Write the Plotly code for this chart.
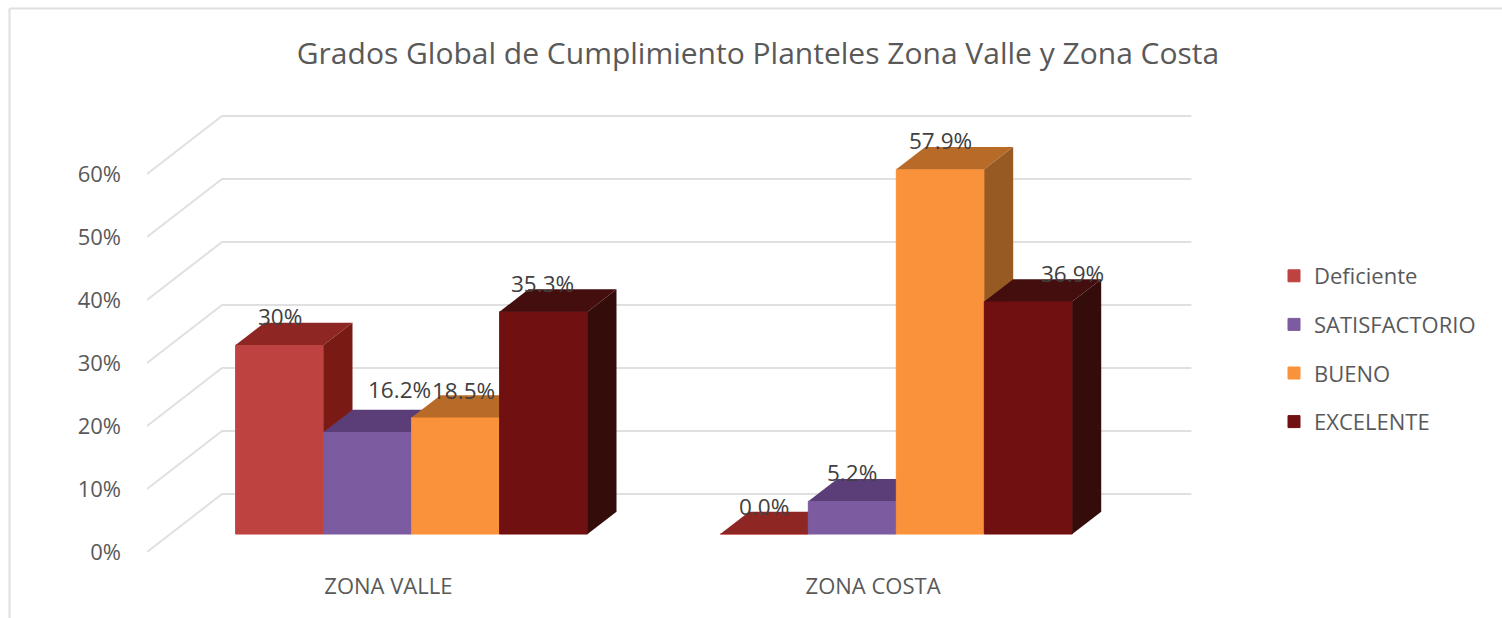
import plotly.graph_objects as go

# ---- data ----
categories = ["ZONA VALLE", "ZONA COSTA"]
series_names = ["Deficiente", "SATISFACTORIO", "BUENO", "EXCELENTE"]
deficiente = [30.0, 0.0]
satisfactorio = [16.2, 5.2]
bueno = [18.5, 57.9]
excelente = [35.3, 36.9]
label_deficiente = ["30%", "0.0%"]
label_satisfactorio = ["16.2%", "5.2%"]
label_bueno = ["18.5%", "57.9%"]
label_excelente = ["35.3%", "36.9%"]
y_ticks = [0, 10, 20, 30, 40, 50, 60]
y_tick_labels = ["0%", "10%", "20%", "30%", "40%", "50%", "60%"]

# ---- styles ----
FRONT = ["#BE4340", "#7D5BA0", "#F9923A", "#711010"]
TOP = ["#8E2724", "#5B3E78", "#B86B28", "#440E0E"]
SIDE = ["#7A1A14", "#4A2F66", "#965A22", "#340D0B"]
LABEL_SHIFT = [[(0, 29), (0, 28)], [(32, 42), (0, 29)], [(8, 27), (0, 29)], [(-1, 28), (44, 28)]]
TEXT = "#595959"
GRID = "#E0E0E0"
FONT = "Open Sans"

W, H = 1502, 618
L, R_PX, ZERO_PX = 147, 1192, 552
PX_PER_UNIT = 484.7       # one category width
PX_PER_PCT = 6.3
TOP_PX = 100
X_MAX = (R_PX - L) / PX_PER_UNIT
Y_MAX = (ZERO_PX - TOP_PX) / PX_PER_PCT
DX = 75 / PX_PER_UNIT     # floor depth, horizontal part
DY = 58 / PX_PER_PCT      # floor depth, vertical part
D0, D1 = 0.31, 0.695      # bar front/back depth within floor
BAR_W = 88.0 / PX_PER_UNIT


def proj(x, v, d):
    return x + d * DX, v + d * DY


all_values = [deficiente, satisfactorio, bueno, excelente]
all_labels = [label_deficiente, label_satisfactorio, label_bueno, label_excelente]
fig = go.Figure()

# grid: back-wall lines and wall-side diagonals, on base axes
gx, gy = [], []
for t in y_ticks:
    p0, p1, p2 = proj(0, t, 0), proj(0, t, 1), proj(2, t, 1)
    gx += [p0[0], p1[0], p2[0], None]
    gy += [p0[1], p1[1], p2[1], None]
fig.add_trace(go.Scatter(x=gx, y=gy, mode="lines", line=dict(color=GRID, width=2),
                         showlegend=False, hoverinfo="skip"))

annotations = []
centers = [0.498, 1.498]
for i, (name, vals) in enumerate(zip(series_names, all_values)):
    suffix = str(i + 2)
    xa, ya = "x" + suffix, "y" + suffix
    cx = [c + (i - 1.5) * BAR_W for c in centers]     # bar centre before depth shift
    bx = [c + D0 * DX for c in cx]
    base = D0 * DY
    fig.add_trace(go.Bar(x=bx, y=vals, base=[base] * 2, width=BAR_W, name=name,
                         marker=dict(color=FRONT[i], line=dict(width=1, color=FRONT[i])),
                         xaxis=xa, yaxis=ya, legendgroup=name))
    for c, v in zip(cx, vals):
        x0, x1 = c - BAR_W / 2, c + BAR_W / 2
        a, b, e, f = proj(x0, v, D0), proj(x1, v, D0), proj(x1, v, D1), proj(x0, v, D1)
        fig.add_trace(go.Scatter(x=[a[0], b[0], e[0], f[0], a[0]], y=[a[1], b[1], e[1], f[1], a[1]],
                                 mode="lines", fill="toself", fillcolor=TOP[i], line=dict(width=0, color=TOP[i]),
                                 xaxis=xa, yaxis=ya, showlegend=False, legendgroup=name, hoverinfo="skip"))
        g, h = proj(x1, 0, D0), proj(x1, 0, D1)
        fig.add_trace(go.Scatter(x=[b[0], e[0], h[0], g[0], b[0]], y=[b[1], e[1], h[1], g[1], b[1]],
                                 mode="lines", fill="toself", fillcolor=SIDE[i], line=dict(width=0, color=SIDE[i]),
                                 xaxis=xa, yaxis=ya, showlegend=False, legendgroup=name, hoverinfo="skip"))
    for j, (c, v) in enumerate(zip(bx, vals)):
        xs, ys = LABEL_SHIFT[i][j]
        annotations.append(dict(x=c, y=v + base, text=all_labels[i][j], showarrow=False,
                                xref="x", yref="y", xshift=xs, yshift=ys, xanchor="center", yanchor="middle",
                                font=dict(family=FONT, size=22.5, color="#404040")))

layout_axes = {}
for k in range(2, 6):
    layout_axes[f"xaxis{k}"] = dict(range=[0, X_MAX], overlaying="x", visible=False, fixedrange=True)
    layout_axes[f"yaxis{k}"] = dict(range=[0, Y_MAX], overlaying="y", visible=False, fixedrange=True)

fig.update_layout(
    width=W, height=H, margin=dict(l=L, r=W - R_PX, t=TOP_PX, b=H - ZERO_PX, pad=0),
    paper_bgcolor="white", plot_bgcolor="rgba(0,0,0,0)", autosize=False,
    title=dict(text="Grados Global de Cumplimiento Planteles Zona Valle y Zona Costa",
               x=758 / W, xanchor="center", y=1 - 53 / H, yanchor="middle",
               font=dict(family=FONT, size=30, color=TEXT)),
    xaxis=dict(range=[0, X_MAX], tickvals=centers, ticktext=categories, showgrid=False, zeroline=False,
               showline=False, ticks="", tickfont=dict(family=FONT, size=22, color=TEXT),
               ticklabelstandoff=19),
    yaxis=dict(range=[0, Y_MAX], tickvals=y_ticks, ticktext=y_tick_labels, showgrid=False, zeroline=False,
               showline=False, ticks="", tickfont=dict(family=FONT, size=22, color=TEXT),
               ticklabelstandoff=25),
    legend=dict(x=(1274 - L) / (R_PX - L), y=1 - (255 - TOP_PX) / (ZERO_PX - TOP_PX), xanchor="left", yanchor="top",
                font=dict(family=FONT, size=22, color=TEXT), traceorder="grouped", tracegroupgap=17,
                itemwidth=30, bgcolor="rgba(0,0,0,0)"),
    annotations=annotations,
    shapes=[
        dict(type="line", xref="paper", yref="paper", x0=(9.5 - L) / (R_PX - L), x1=(W - L) / (R_PX - L),
             y0=1 + (TOP_PX - 8.5) / (ZERO_PX - TOP_PX), y1=1 + (TOP_PX - 8.5) / (ZERO_PX - TOP_PX),
             line=dict(color=GRID, width=2)),
        dict(type="line", xref="paper", yref="paper", x0=(9.5 - L) / (R_PX - L), x1=(9.5 - L) / (R_PX - L),
             y0=(ZERO_PX - H) / (ZERO_PX - TOP_PX), y1=1 + (TOP_PX - 8.5) / (ZERO_PX - TOP_PX),
             line=dict(color=GRID, width=2)),
    ],
    **layout_axes,
)

fig.write_html("out.html", config=dict(displayModeBar=False),
               post_script="document.body.style.margin='0';document.documentElement.style.overflow='hidden';")
